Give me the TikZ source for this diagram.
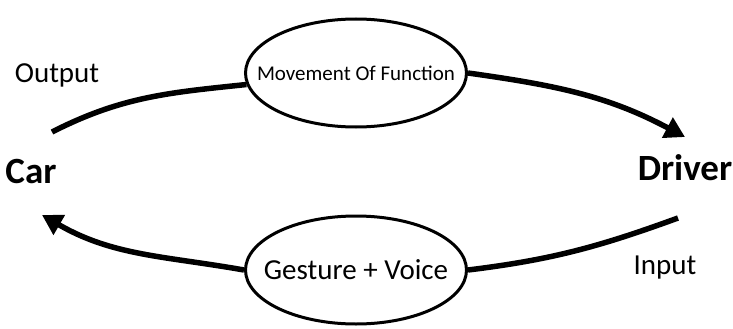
\documentclass[tikz,border=0pt]{standalone}
\usepackage{fontspec}
\setmainfont{Carlito}
\usetikzlibrary{shapes.geometric,arrows.meta}
\begin{document}
\begin{tikzpicture}[x=1pt,y=-1pt,
  oval/.style={draw=black,line width=3pt,ellipse,inner sep=0pt,minimum width=221pt,minimum height=108pt,fill=white},
  flow/.style={line width=5.5pt,line cap=butt},
  tip/.style={-{Triangle[length=20pt,width=22pt]}},
  lbl/.style={inner sep=0pt,font=\fontsize{29}{32}\selectfont},
  big/.style={inner sep=0pt,font=\fontsize{37}{40}\selectfont\bfseries}]
\useasboundingbox (0,0) rectangle (733,329);
\node[oval] (mf) at (356,73) {};
\node[inner sep=0pt,font=\fontsize{21}{24}\selectfont] (mft) at (mf.center) {Movement Of Function};
\node[oval] (gv) at (356,270) {};
\node[lbl] (gvt) at (gv.center) {Gesture + Voice};
\node[big] (car) at (31,172) {Car};
\node[big] (drv) at (685,168) {Driver};
\node[lbl] (out) at (57,75) {Output};
\node[lbl] (inp) at (665,268) {Input};
\coordinate (tl) at (52,132);
\coordinate (tr) at (685,137);
\coordinate (bl) at (42,215);
\coordinate (br) at (678,218);
\draw[flow] (tl) to[out=27,in=186] (mf.186);
\draw[flow,tip] (mf.east) to[out=-8,in=152] (tr);
\draw[flow,tip] (gv.west) to[out=170,in=-30] (bl);
\draw[flow] (gv.east) to[out=7,in=200] (br);
\end{tikzpicture}
\end{document}
